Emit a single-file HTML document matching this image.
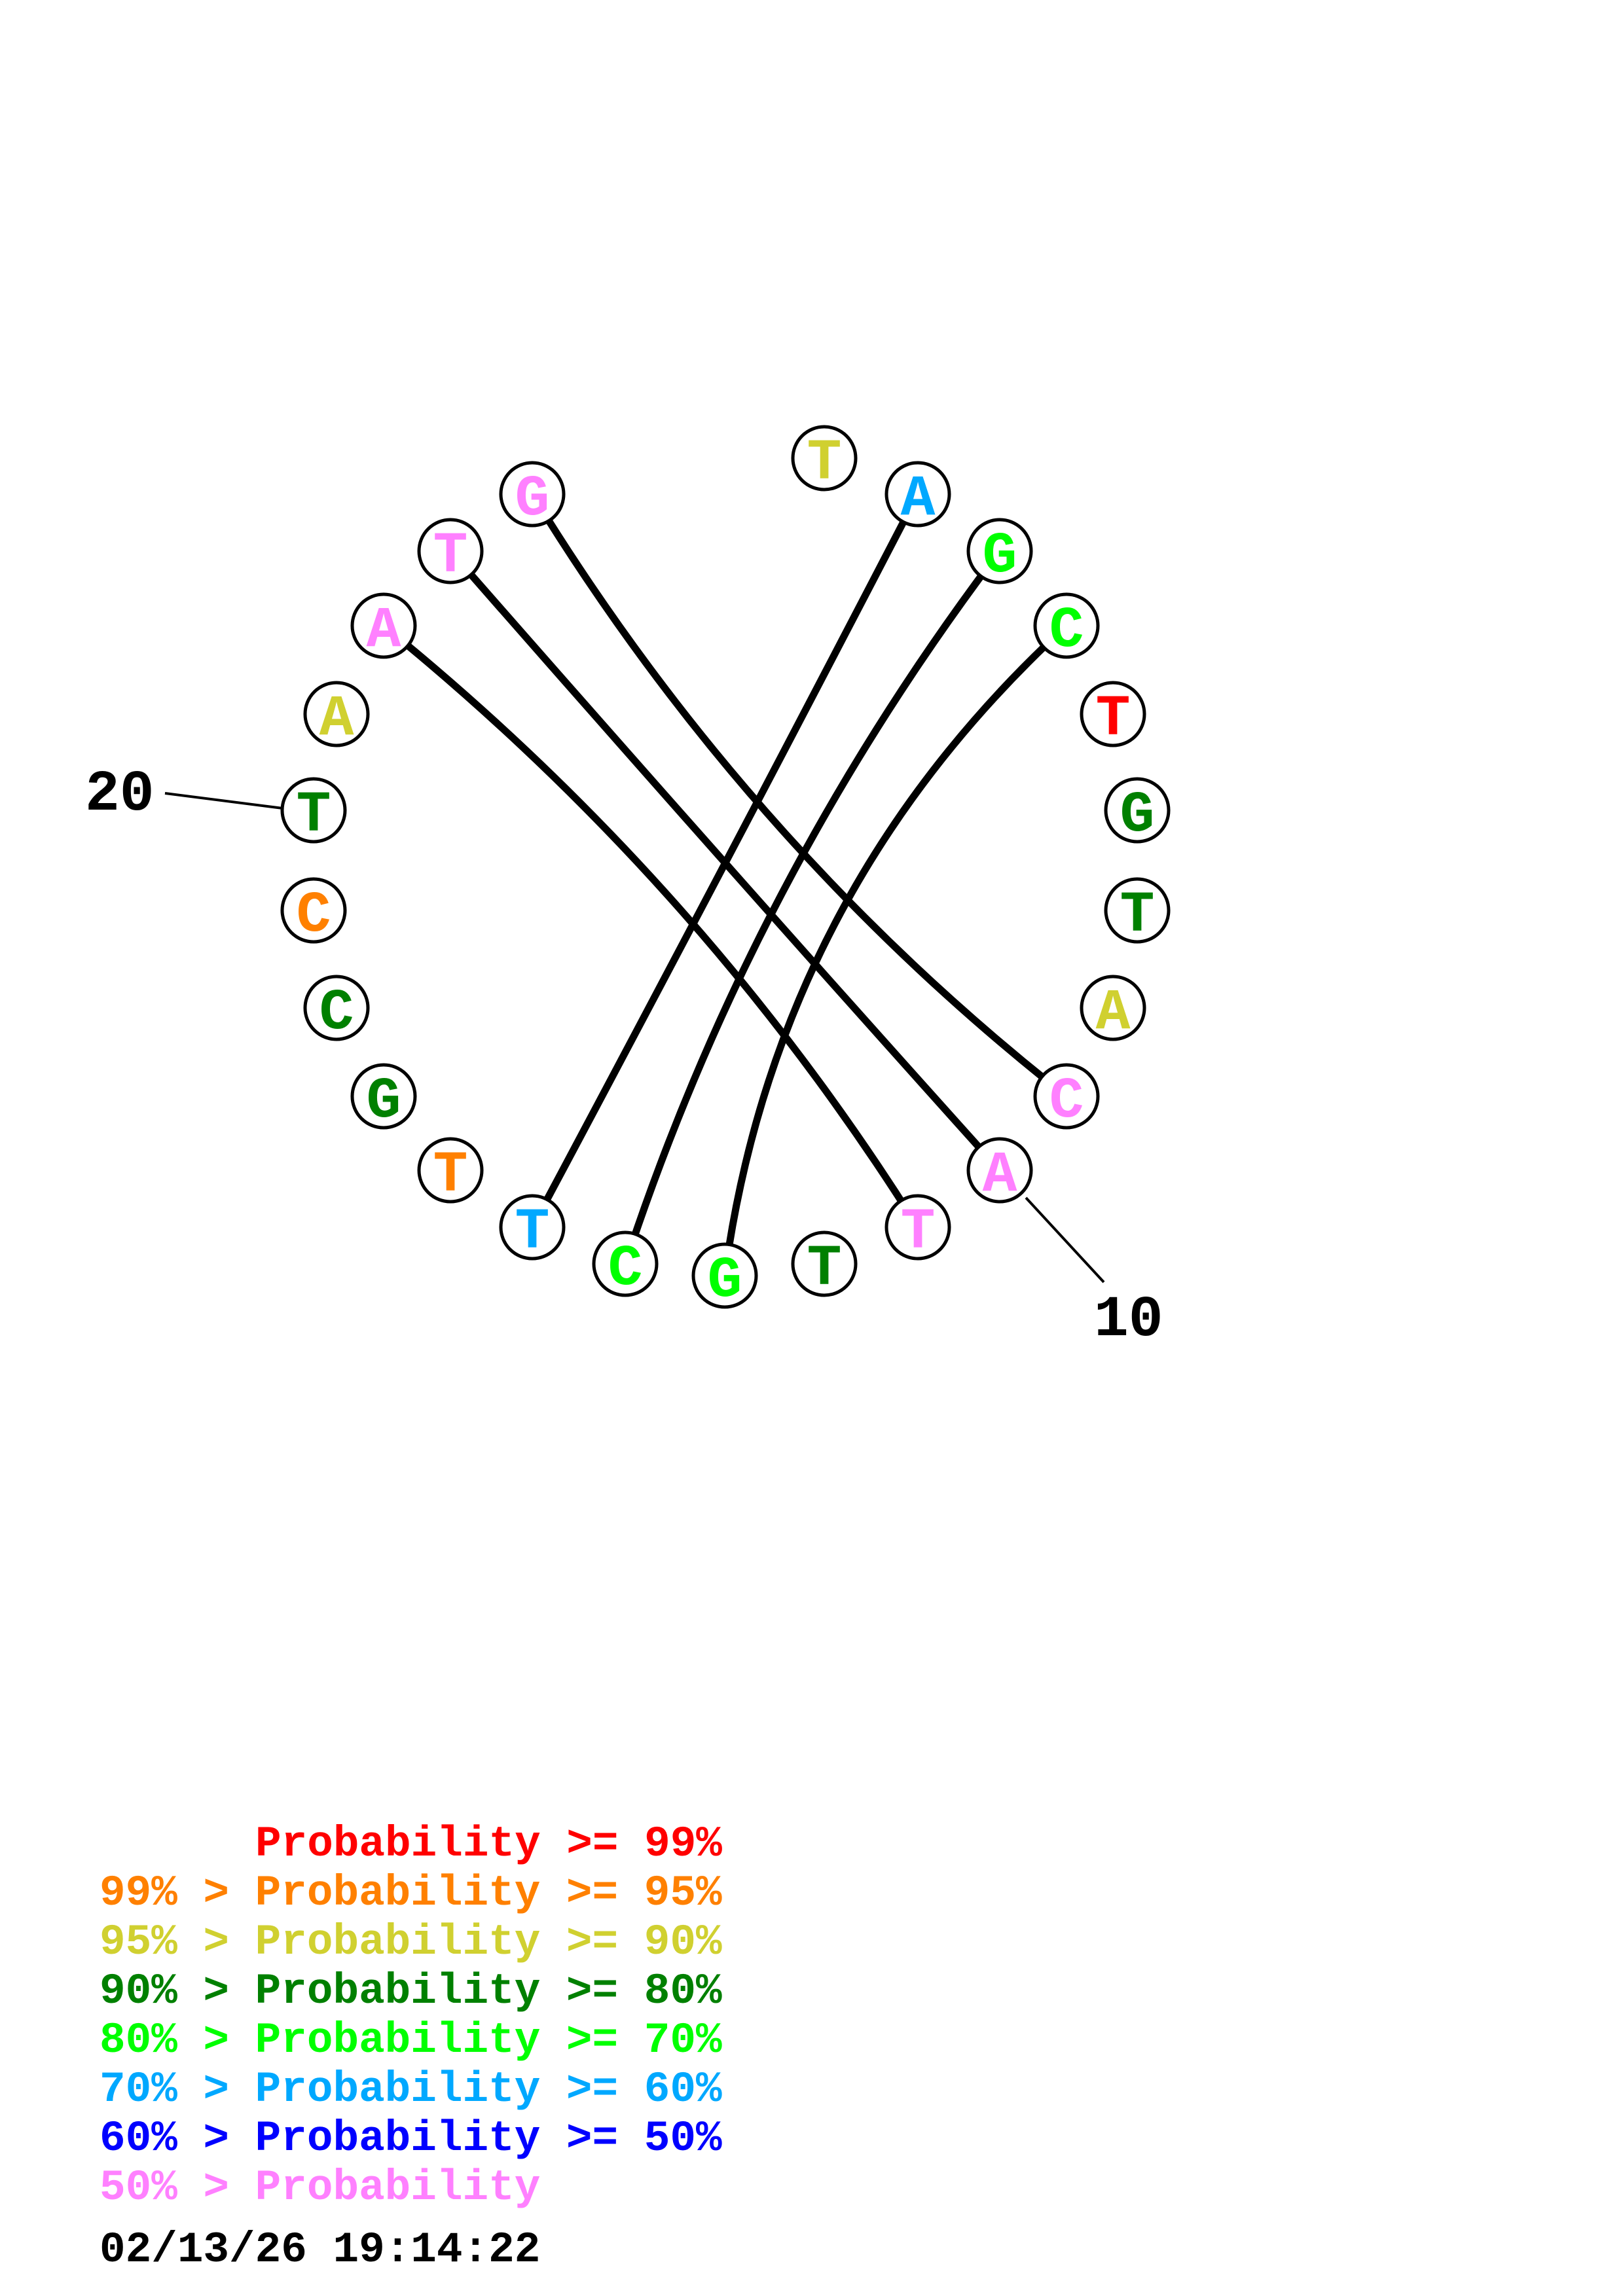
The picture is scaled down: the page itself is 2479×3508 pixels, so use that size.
<!DOCTYPE html>
<html><head><meta charset="utf-8"><style>
html,body{margin:0;padding:0;background:#fff}
svg{display:block}
</style></head><body>
<svg width="2479" height="3508" viewBox="0 0 2479 3508" xmlns="http://www.w3.org/2000/svg">
<rect width="2479" height="3508" fill="#fff"/>
<g fill="none" stroke="#000" stroke-width="11" stroke-linecap="round">
<path d="M813,755 Q1142,1292 1629,1675"/>
<path d="M688,842 Q1108,1322 1527,1788"/>
<path d="M586,956 Q1074,1352 1402,1875"/>
<path d="M1402,755 Q1108,1322 813,1875"/>
<path d="M1527,842 Q1148,1343 955,1931"/>
<path d="M1629,956 Q1186,1363 1107,1949"/>
</g>
<g stroke="#000" stroke-width="4">
<line x1="252" y1="1212" x2="432" y2="1235"/>
<line x1="1567" y1="1830" x2="1686" y2="1959"/>
</g>
<g fill="#fff" stroke="#000" stroke-width="5">
<circle cx="1259" cy="700" r="48"/><circle cx="1402" cy="755" r="48"/><circle cx="1527" cy="842" r="48"/><circle cx="1629" cy="956" r="48"/>
<circle cx="1700" cy="1091" r="48"/><circle cx="1737" cy="1238" r="48"/><circle cx="1737" cy="1391" r="48"/><circle cx="1700" cy="1540" r="48"/>
<circle cx="1629" cy="1675" r="48"/><circle cx="1527" cy="1788" r="48"/><circle cx="1402" cy="1875" r="48"/><circle cx="1259" cy="1931" r="48"/>
<circle cx="1107" cy="1949" r="48"/><circle cx="955" cy="1931" r="48"/><circle cx="813" cy="1875" r="48"/><circle cx="688" cy="1788" r="48"/>
<circle cx="586" cy="1675" r="48"/><circle cx="514" cy="1540" r="48"/><circle cx="479" cy="1391" r="48"/><circle cx="479" cy="1238" r="48"/>
<circle cx="514" cy="1091" r="48"/><circle cx="586" cy="956" r="48"/><circle cx="688" cy="842" r="48"/><circle cx="813" cy="755" r="48"/>
</g>
<g font-family="'Liberation Mono', monospace" font-weight="bold" font-size="88" text-anchor="middle">
<text x="1259" y="731" fill="#d0d030">T</text>
<text x="1402" y="786" fill="#00a8ff">A</text>
<text x="1527" y="873" fill="#00ff00">G</text>
<text x="1629" y="987" fill="#00ff00">C</text>
<text x="1700" y="1122" fill="#ff0000">T</text>
<text x="1737" y="1269" fill="#008000">G</text>
<text x="1737" y="1422" fill="#008000">T</text>
<text x="1700" y="1571" fill="#d0d030">A</text>
<text x="1629" y="1706" fill="#ff80ff">C</text>
<text x="1527" y="1819" fill="#ff80ff">A</text>
<text x="1402" y="1906" fill="#ff80ff">T</text>
<text x="1259" y="1962" fill="#008000">T</text>
<text x="1107" y="1980" fill="#00ff00">G</text>
<text x="955" y="1962" fill="#00ff00">C</text>
<text x="813" y="1906" fill="#00a8ff">T</text>
<text x="688" y="1819" fill="#ff8000">T</text>
<text x="586" y="1706" fill="#008000">G</text>
<text x="514" y="1571" fill="#008000">C</text>
<text x="479" y="1422" fill="#ff8000">C</text>
<text x="479" y="1269" fill="#008000">T</text>
<text x="514" y="1122" fill="#d0d030">A</text>
<text x="586" y="987" fill="#ff80ff">A</text>
<text x="688" y="873" fill="#ff80ff">T</text>
<text x="813" y="786" fill="#ff80ff">G</text>
</g>
<g font-family="'Liberation Mono', monospace" font-weight="bold" font-size="88" fill="#000">
<text x="130" y="1237">20</text>
<text x="1671" y="2040">10</text>
</g>
<g font-family="'Liberation Mono', monospace" font-weight="bold" font-size="66">
<text x="390" y="2835" fill="#ff0000">Probability &gt;= 99%</text>
<text x="152" y="2910" fill="#ff8000">99% &gt; Probability &gt;= 95%</text>
<text x="152" y="2985" fill="#d0d030">95% &gt; Probability &gt;= 90%</text>
<text x="152" y="3060" fill="#008000">90% &gt; Probability &gt;= 80%</text>
<text x="152" y="3135" fill="#00ff00">80% &gt; Probability &gt;= 70%</text>
<text x="152" y="3210" fill="#00a8ff">70% &gt; Probability &gt;= 60%</text>
<text x="152" y="3285" fill="#0000ff">60% &gt; Probability &gt;= 50%</text>
<text x="152" y="3360" fill="#ff80ff">50% &gt; Probability</text>
<text x="152" y="3455" fill="#000">02/13/26 19:14:22</text>
</g>
</svg>
</body></html>
